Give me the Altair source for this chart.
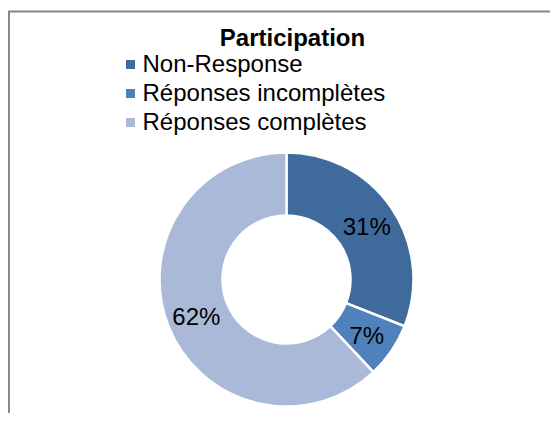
import altair as alt
import pandas as pd

categories = ["Non-Response", "Réponses incomplètes", "Réponses complètes"]
shares = [0.31, 0.07, 0.62]
slice_order = [1, 2, 3]
colors = ["#3F6A9C", "#4F81BD", "#AAB9D7"]
title_text = ["Participation"]

FONT = "Liberation Sans"
CX, CY = 278.5, 271.5

df = pd.DataFrame({"cat": categories, "share": shares, "ord": slice_order})

color_enc = alt.Color(
    "cat:N",
    scale=alt.Scale(domain=categories, range=colors),
    sort=categories,
    legend=alt.Legend(
        orient="none",
        legendX=110.5,
        legendY=44.5,
        title=None,
        symbolType="square",
        symbolSize=81,
        symbolStrokeWidth=0,
        labelFontSize=24,
        labelFont=FONT,
        labelColor="black",
        rowPadding=5,
        labelOffset=0,
        labelLimit=400,
    ),
)

arcs = alt.Chart(df).mark_arc(
    outerRadius=127, innerRadius=64, stroke="white", strokeWidth=2.5
).encode(
    theta=alt.Theta("share:Q", stack=True),
    order=alt.Order("ord:Q"),
    color=color_enc,
    x=alt.value(CX),
    y=alt.value(CY),
)

labels = alt.Chart(df).mark_text(
    radius=97, fontSize=24, font=FONT, color="black", dy=3
).encode(
    theta=alt.Theta("share:Q", stack=True),
    order=alt.Order("ord:Q"),
    detail="cat:N",
    text=alt.Text("share:Q", format=".0%"),
    x=alt.value(CX),
    y=alt.value(CY),
)

title = alt.Chart(pd.DataFrame({"t": title_text})).mark_text(
    fontSize=24, fontWeight="bold", font=FONT, color="black", baseline="alphabetic"
).encode(text="t:N", x=alt.value(284.5), y=alt.value(38))

border = alt.Chart(pd.DataFrame({"a": [0]})).mark_rect(
    fillOpacity=0, stroke="#888888", strokeWidth=2
).encode(x=alt.value(1), x2=alt.value(900), y=alt.value(3.5), y2=alt.value(900))

chart = alt.layer(border, arcs, labels, title).properties(
    width=542,
    height=405,
    autosize=alt.AutoSizeParams(type="none"),
    padding=0,
).configure_view(stroke=None)

chart.save("out.html", embed_options={"renderer": "svg", "actions": False})
